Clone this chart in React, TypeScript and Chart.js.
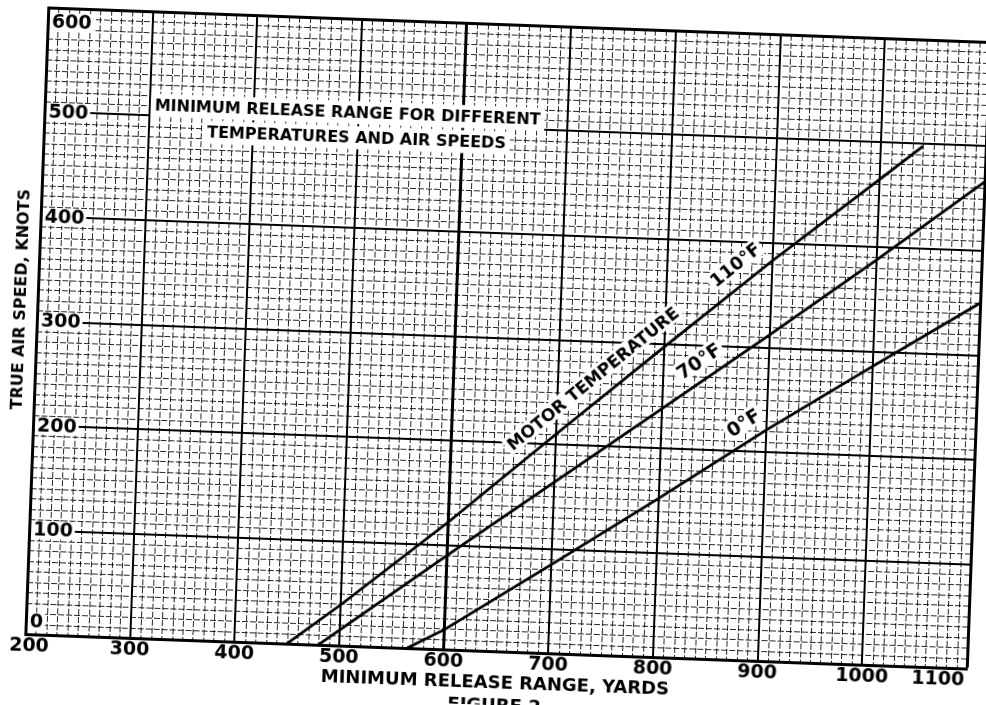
import React, { useEffect, useRef } from "react";
import { Chart, registerables } from "chart.js";

Chart.register(...registerables);

// ---- data ----
const xTicks = [200, 300, 400, 500, 600, 700, 800, 900, 1000, 1100];
const yTicks = [0, 100, 200, 300, 400, 500, 600];

const range110 = [450, 500, 600, 700, 800, 900, 1000, 1040];
const speed110 = [0, 39, 122, 210, 297, 383, 465, 498];

const range70 = [480, 500, 600, 700, 800, 900, 1000, 1100];
const speed70 = [0, 15, 90, 164, 238, 312, 388, 466];

const range0 = [565, 600, 700, 800, 900, 1000, 1100];
const speed0 = [0, 19, 85, 152, 221, 286, 350];

const seriesNames = ["110°F", "70°F", "0°F"];
const titleLines = ["MINIMUM RELEASE RANGE FOR DIFFERENT", "TEMPERATURES AND AIR SPEEDS"];
const xTitle = "MINIMUM RELEASE RANGE, YARDS";
const yTitle = "TRUE AIR SPEED, KNOTS";
const figureCaption = "FIGURE 2";

const FONT = '"DejaVu Sans", "Liberation Sans", Arial, sans-serif';
const MINOR_STEP = 10;

function toPoints(xs: number[], ys: number[]) {
  return xs.map((x, i) => ({ x, y: ys[i] }));
}

function interpAt(pts: { x: number; y: number }[], x: number) {
  for (let i = 0; i < pts.length - 1; i++) {
    const a = pts[i], b = pts[i + 1];
    if (x >= a.x && x <= b.x) return a.y + ((b.y - a.y) * (x - a.x)) / (b.x - a.x);
  }
  return pts[pts.length - 1].y;
}

// label placement along curves (dataset index, text, start x in yards, perpendicular offset px)
const lineLabels = [
  { ds: 0, text: "MOTOR TEMPERATURE", at: 668, off: 14, size: 17 },
  { ds: 0, text: "110°F", at: 856, off: 14, size: 18 },
  { ds: 1, text: "70°F", at: 825, off: 12, size: 19 },
  { ds: 2, text: "0°F", at: 874, off: 12, size: 19 },
];

const decorPlugin = {
  id: "decor",
  beforeDraw(chart: any) {
    const { ctx, chartArea: a, scales } = chart;
    const xs = scales.x, ys = scales.y;
    ctx.save();
    ctx.strokeStyle = "rgba(0,0,0,0.85)";
    ctx.lineWidth = 1;
    ctx.setLineDash([6, 2]);
    for (let v = xs.min; v <= xs.max; v += MINOR_STEP) {
      if (v % 100 === 0) continue;
      const px = Math.round(xs.getPixelForValue(v)) + 0.5;
      ctx.beginPath();
      ctx.moveTo(px, a.top);
      ctx.lineTo(px, a.bottom);
      ctx.stroke();
    }
    for (let v = ys.min; v <= ys.max; v += MINOR_STEP) {
      if (v % 100 === 0) continue;
      const py = Math.round(ys.getPixelForValue(v)) + 0.5;
      ctx.beginPath();
      ctx.moveTo(a.left, py);
      ctx.lineTo(a.right, py);
      ctx.stroke();
    }
    ctx.restore();
  },
  beforeDatasetsDraw(chart: any) {
    const { ctx, chartArea: a, scales } = chart;
    const xs = scales.x, ys = scales.y;
    ctx.save();
    // y tick labels inside the plot with white backdrops
    ctx.font = `bold 19px ${FONT}`;
    ctx.textAlign = "left";
    ctx.textBaseline = "middle";
    for (const v of yTicks) {
      let py = ys.getPixelForValue(v);
      py = Math.min(Math.max(py, a.top + 14), a.bottom - 13);
      const t = String(v);
      const w = ctx.measureText(t).width;
      const lx = a.left + 4;
      ctx.fillStyle = "#fff";
      ctx.fillRect(lx - 2, py - 9, w + 4, 18);
      ctx.fillStyle = "#000";
      ctx.fillText(t, lx, py + 1);
    }

    // title block
    ctx.font = `bold 16px ${FONT}`;
    ctx.textBaseline = "alphabetic";
    const anchors = [
      { x: 305, y: 505 },
      { x: 356, y: 481 },
    ];
    titleLines.forEach((line, i) => {
      const px = xs.getPixelForValue(anchors[i].x);
      const py = ys.getPixelForValue(anchors[i].y);
      const w = ctx.measureText(line).width;
      ctx.fillStyle = "#fff";
      ctx.fillRect(px - 4, py - 17, w + 8, 23);
      ctx.fillStyle = "#000";
      ctx.fillText(line, px, py);
    });

    // curve labels
    for (const lab of lineLabels) {
      const pts = chart.data.datasets[lab.ds].data as { x: number; y: number }[];
      const y1 = interpAt(pts, lab.at);
      const y2 = interpAt(pts, lab.at + 30);
      const p1x = xs.getPixelForValue(lab.at), p1y = ys.getPixelForValue(y1);
      const p2x = xs.getPixelForValue(lab.at + 30), p2y = ys.getPixelForValue(y2);
      const ang = Math.atan2(p2y - p1y, p2x - p1x);
      ctx.save();
      ctx.translate(p1x, p1y);
      ctx.rotate(ang);
      ctx.font = `bold ${lab.size}px ${FONT}`;
      const w = ctx.measureText(lab.text).width;
      const cap = lab.size * 0.73;
      ctx.fillStyle = "#fff";
      ctx.fillRect(-3, -lab.off - cap - 3, w + 6, cap + 6);
      ctx.fillStyle = "#000";
      ctx.textAlign = "left";
      ctx.textBaseline = "alphabetic";
      ctx.fillText(lab.text, 0, -lab.off);
      ctx.restore();
    }
    ctx.restore();
  },
  afterDraw(chart: any) {
    const { ctx, chartArea: a, scales } = chart;
    const xs = scales.x, ys = scales.y;
    ctx.save();
    ctx.fillStyle = "#000";
    // x tick labels
    ctx.font = `bold 19px ${FONT}`;
    ctx.textAlign = "center";
    ctx.textBaseline = "middle";
    for (const v of xTicks) {
      const t = String(v);
      const w = ctx.measureText(t).width;
      let cx = xs.getPixelForValue(v);
      cx = Math.max(Math.min(cx, a.right - w / 2 - 2), a.left + 4);
      ctx.fillText(t, cx, a.bottom + 12);
    }
    // x title
    ctx.font = `bold 18px ${FONT}`;
    ctx.fillText(xTitle, (a.left + a.right) / 2, a.bottom + 32);
    // figure caption (cut off by the page edge)
    ctx.textBaseline = "top";
    ctx.fillText(figureCaption, (a.left + a.right) / 2, a.bottom + 46);
    // y title
    ctx.save();
    ctx.translate(a.left - 16, ys.getPixelForValue(320));
    ctx.rotate(-Math.PI / 2);
    ctx.font = `bold 16px ${FONT}`;
    ctx.textBaseline = "middle";
    ctx.fillText(yTitle, 0, 0);
    ctx.restore();
    ctx.restore();
  },
};

export default function App() {
  const canvasRef = useRef<HTMLCanvasElement | null>(null);

  useEffect(() => {
    if (!canvasRef.current) return;
    const lineStyle = {
      borderColor: "#000",
      borderWidth: 2.8,
      pointRadius: 0,
      tension: 0,
      fill: false,
    };
    const edgeWidth = (ctx: any) => {
      const v = ctx.tick ? ctx.tick.value : null;
      return v === 1100 || v === 600 ? 3 : 2;
    };
    const chart = new Chart(canvasRef.current, {
      type: "line",
      data: {
        datasets: [
          { label: seriesNames[0], data: toPoints(range110, speed110), ...lineStyle },
          { label: seriesNames[1], data: toPoints(range70, speed70), ...lineStyle },
          { label: seriesNames[2], data: toPoints(range0, speed0), ...lineStyle },
        ],
      },
      options: {
        animation: false,
        responsive: false,
        events: [],
        layout: { padding: { left: 36, right: 8, top: 24, bottom: 54 } },
        plugins: { legend: { display: false }, tooltip: { enabled: false } },
        scales: {
          x: {
            type: "linear",
            min: xTicks[0],
            max: xTicks[xTicks.length - 1],
            ticks: { display: false, stepSize: 100 },
            grid: { color: "#000", lineWidth: edgeWidth, drawTicks: false },
            border: { display: true, color: "#000", width: 3 },
          },
          y: {
            type: "linear",
            min: yTicks[0],
            max: yTicks[yTicks.length - 1],
            ticks: { display: false, stepSize: 100 },
            grid: { color: "#000", lineWidth: edgeWidth, drawTicks: false },
            border: { display: true, color: "#000", width: 3 },
          },
        },
      },
      plugins: [decorPlugin],
    } as any);
    return () => chart.destroy();
  }, []);

  return (
    <div
      style={{
        position: "fixed",
        left: 0,
        top: 0,
        width: 986,
        height: 705,
        overflow: "hidden",
        background: "#fff",
      }}
    >
      <canvas
        ref={canvasRef}
        width={986}
        height={705}
        style={{
          display: "block",
          width: 986,
          height: 705,
          transform: "rotate(2.1deg)",
          transformOrigin: "50% 50%",
        }}
      />
    </div>
  );
}
